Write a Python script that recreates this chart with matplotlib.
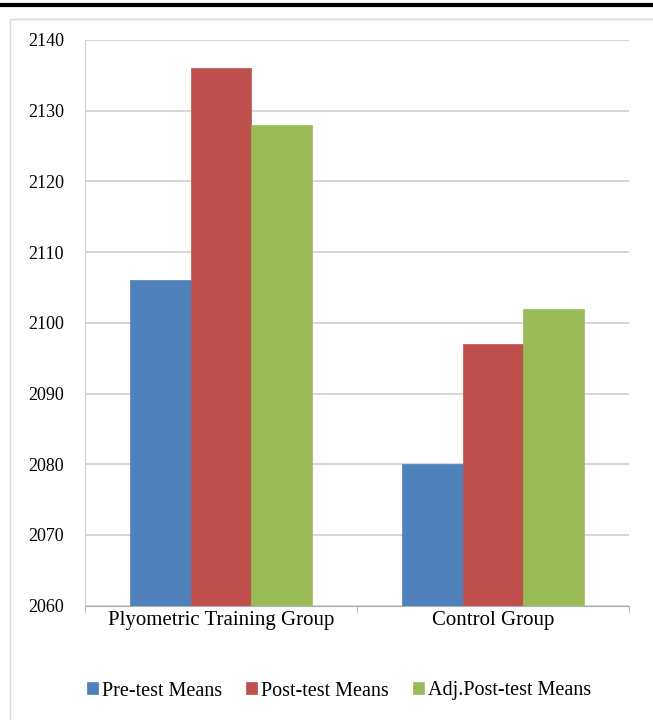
import matplotlib
matplotlib.use("Agg")
import matplotlib.pyplot as plt
import numpy as np
from matplotlib.patches import Rectangle
from matplotlib.lines import Line2D

categories = ["Plyometric Training Group", "Control Group"]
series_names = ["Pre-test Means", "Post-test Means", "Adj.Post-test Means"]
pre_test = [2106, 2080]
post_test = [2136, 2097]
adj_post_test = [2128, 2102]
y_ticks = [2060, 2070, 2080, 2090, 2100, 2110, 2120, 2130, 2140]

colors = ["#4f81bd", "#c0504d", "#9bbb59"]
plt.rcParams['font.family'] = ['Liberation Serif', 'DejaVu Serif']

fig = plt.figure(figsize=(6.53, 7.2), dpi=100)
# frame decorations
fig.add_artist(Line2D([0, 1], [1 - 5/720, 1 - 5/720], color="black", lw=3, transform=fig.transFigure))
fig.add_artist(Rectangle((10/653, -0.01), 1.0, 1 - 19/720 + 0.01, transform=fig.transFigure,
                         fill=False, edgecolor="#d9d9d9", lw=1))

ax = fig.add_axes([85/653, 1 - 605.6/720, (629 - 85)/653, (605.6 - 40)/720])
x = np.arange(len(categories))
w = 0.222
for i, (vals, c) in enumerate(zip([pre_test, post_test, adj_post_test], colors)):
    ax.bar(x + (i - 1) * w, np.array(vals) - 2060, width=w, bottom=2060, color=c,
           edgecolor=c, lw=0.5, label=series_names[i], zorder=3)

ax.set_xlim(-0.5, 1.5)
ax.set_ylim(2060, 2140)
ax.set_yticks(y_ticks)
ax.set_yticklabels([str(t) for t in y_ticks], fontsize=13)
ax.yaxis.grid(True, color="#cfcfcf", lw=1.2, zorder=0)
ax.set_xticks(x)
ax.set_xticklabels(categories, fontsize=15)
ax.set_xticks([-0.5, 0.5, 1.5], minor=True)
ax.tick_params(axis="x", which="major", length=0, pad=4)
ax.tick_params(axis="x", which="minor", length=5, color="#b0b0b0")
ax.tick_params(axis="y", length=0, pad=15)
for s in ["top", "right"]:
    ax.spines[s].set_visible(False)
ax.spines["left"].set_color("#d0d0d0")
ax.spines["bottom"].set_color("#b0b0b0")

handles, labels = ax.get_legend_handles_labels()
fig.legend(handles, labels, loc="center", bbox_to_anchor=(339/653, 1 - 691/720), ncol=3,
           frameon=False, fontsize=14.5, handlelength=0.55, handleheight=0.55,
           handletextpad=0.2, columnspacing=1.2)

fig.savefig("out.png", dpi=100)
